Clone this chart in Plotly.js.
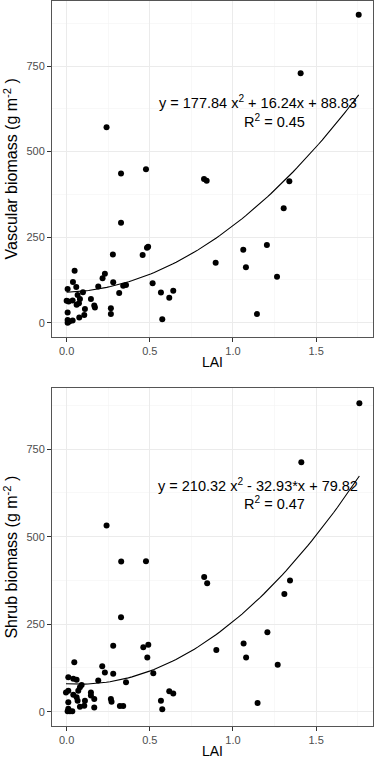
<!DOCTYPE html>
<html>
<head>
<meta charset="utf-8">
<script src="https://cdn.plot.ly/plotly-3.0.1.min.js"></script>
<style>
  html, body { margin: 0; padding: 0; background: #ffffff; }
  #graph { width: 375px; height: 759px; }
</style>
</head>
<body>
<div id="graph"></div>
<script>
// LAI vs vascular biomass (top panel)
const laiVasc = [
  0.000, 0.012, 0.036, 0.006, 0.038, 0.048, 0.058, 0.066, 0.080, 0.098,
  0.060, 0.074, 0.006, 0.006, 0.016, 0.006, 0.036, 0.076, 0.106, 0.110,
  0.146, 0.166, 0.170, 0.190, 0.216, 0.230, 0.266, 0.266, 0.280, 0.278,
  0.316, 0.340, 0.357, 0.327, 0.327, 0.240, 0.457, 0.483, 0.490, 0.477,
  0.517, 0.567, 0.575, 0.617, 0.641, 0.826, 0.842, 0.896, 1.062, 1.078,
  1.144, 1.204, 1.265, 1.305, 1.339, 1.407, 1.756
];
const vascBiomass = [
  64, 62, 65, 98, 119, 152, 104, 81, 69, 89,
  52, 57, 30, 8, 3, 0, 6, 15, 22, 40,
  69, 50, 44, 106, 130, 143, 42, 25, 118, 199,
  87, 108, 110, 292, 436, 571, 198, 219, 222, 448,
  115, 88, 10, 73, 93, 420, 415, 175, 213, 162,
  25, 227, 134, 334, 413, 729, 900
];

// LAI vs shrub biomass (bottom panel)
const laiShrub = [
  -0.004, 0.010, 0.010, 0.040, 0.060, 0.046, 0.090, 0.080, 0.070, 0.040,
  0.060, 0.066, 0.010, 0.010, 0.020, 0.006, 0.034, 0.080, 0.106, 0.110,
  0.146, 0.146, 0.166, 0.166, 0.190, 0.214, 0.230, 0.280, 0.266, 0.270,
  0.320, 0.340, 0.357, 0.280, 0.327, 0.328, 0.240, 0.461, 0.491, 0.485,
  0.477, 0.521, 0.567, 0.575, 0.617, 0.641, 0.827, 0.845, 0.900, 1.064,
  1.079, 1.148, 1.207, 1.269, 1.309, 1.343, 1.411, 1.760
];
const shrubBiomass = [
  55, 60, 98, 94, 91, 141, 76, 70, 60, 48,
  41, 31, 27, 8, 1, 1, 1, 14, 17, 31,
  55, 46, 36, 12, 89, 130, 112, 108, 36, 28,
  16, 16, 84, 188, 270, 429, 532, 184, 191, 155,
  430, 110, 31, 7, 58, 52, 385, 367, 176, 195,
  155, 25, 227, 134, 336, 375, 713, 881
];

// quadratic fits as printed on the chart: a*x^2 + b*x + c
const fitVasc = [177.84, 16.24, 88.83];
const fitShrub = [210.32, -32.93, 79.82];
const eqVasc = 'y = 177.84 x<sup>2</sup> + 16.24x + 88.83';
const eqShrub = 'y = 210.32 x<sup>2</sup> - 32.93*x + 79.82';
const r2Vasc = 'R<sup>2</sup> = 0.45';
const r2Shrub = 'R<sup>2</sup> = 0.47';

const xTicks = [0, 0.5, 1.0, 1.5];
const xTickText = ['0.0', '0.5', '1.0', '1.5'];
const yTicks = [0, 250, 500, 750];

const fontFam = '"Liberation Sans", Arial, sans-serif';

const fitCurve = (xs, coef) => {
  const lo = Math.min(...xs);
  const hi = Math.max(...xs);
  const cx = [];
  const cy = [];
  for (let i = 0; i <= 80; i++) {
    const x = lo + (hi - lo) * i / 80;
    cx.push(x);
    cy.push(coef[0] * x * x + coef[1] * x + coef[2]);
  }
  return { x: cx, y: cy };
};

const cV = fitCurve(laiVasc, fitVasc);
const cS = fitCurve(laiShrub, fitShrub);

const dots = { color: '#000000', size: 6 };

const data = [
  { x: laiVasc, y: vascBiomass, type: 'scatter', mode: 'markers', marker: dots, xaxis: 'x', yaxis: 'y' },
  { x: cV.x, y: cV.y, type: 'scatter', mode: 'lines', line: { color: '#000000', width: 1.1 }, xaxis: 'x', yaxis: 'y' },
  { x: laiShrub, y: shrubBiomass, type: 'scatter', mode: 'markers', marker: dots, xaxis: 'x2', yaxis: 'y2' },
  { x: cS.x, y: cS.y, type: 'scatter', mode: 'lines', line: { color: '#000000', width: 1.1 }, xaxis: 'x2', yaxis: 'y2' },
];

const xAxisBase = {
  range: [-0.088, 1.842],
  tickvals: xTicks,
  ticktext: xTickText,
  ticks: 'outside',
  ticklen: 4,
  tickcolor: '#333333',
  tickfont: { family: fontFam, size: 11, color: '#4d4d4d' },
  showgrid: true,
  gridcolor: '#ebebeb',
  gridwidth: 1,
  minor: { tickvals: [0.25, 0.75, 1.25, 1.75], showgrid: true, gridcolor: '#f3f3f3', gridwidth: 0.6, ticks: '' },
  zeroline: false,
  showline: true,
  mirror: true,
  linecolor: '#555555',
  linewidth: 1,
  title: { text: 'LAI', font: { family: fontFam, size: 14, color: '#000000' }, standoff: 1 },
};

const yAxisBase = {
  tickvals: yTicks,
  ticks: 'outside',
  ticklen: 4,
  tickcolor: '#333333',
  tickfont: { family: fontFam, size: 11, color: '#4d4d4d' },
  showgrid: true,
  gridcolor: '#ebebeb',
  gridwidth: 1,
  minor: { tickvals: [125, 375, 625, 875], showgrid: true, gridcolor: '#f3f3f3', gridwidth: 0.6, ticks: '' },
  zeroline: false,
  showline: true,
  mirror: true,
  linecolor: '#555555',
  linewidth: 1,
};

const yTitleFont = { family: fontFam, size: 16, color: '#000000' };
const annFont = { family: fontFam, size: 14.5, color: '#000000' };

const layout = {
  width: 375,
  height: 759,
  margin: { l: 52, r: 2, t: 1, b: 33 },
  paper_bgcolor: '#ffffff',
  plot_bgcolor: '#ffffff',
  showlegend: false,
  xaxis: Object.assign({}, xAxisBase, { anchor: 'y' }),
  yaxis: Object.assign({}, yAxisBase, {
    domain: [0.537, 1],
    range: [-41, 940],
    anchor: 'x',
    title: { text: 'Vascular biomass (g m<sup>-2</sup> )', font: yTitleFont, standoff: 4 },
  }),
  xaxis2: Object.assign({}, xAxisBase, { anchor: 'y2' }),
  yaxis2: Object.assign({}, yAxisBase, {
    domain: [0, 0.4658],
    range: [-41, 924],
    anchor: 'x2',
    title: { text: 'Shrub biomass (g m<sup>-2</sup> )', font: yTitleFont, standoff: 4 },
  }),
  annotations: [
    { xref: 'x', yref: 'y', x: 1.149, y: 644, text: eqVasc, showarrow: false, font: annFont, xanchor: 'center', yanchor: 'middle' },
    { xref: 'x', yref: 'y', x: 1.247, y: 588, text: r2Vasc, showarrow: false, font: annFont, xanchor: 'center', yanchor: 'middle' },
    { xref: 'x2', yref: 'y2', x: 1.150, y: 647, text: eqShrub, showarrow: false, font: annFont, xanchor: 'center', yanchor: 'middle' },
    { xref: 'x2', yref: 'y2', x: 1.247, y: 595, text: r2Shrub, showarrow: false, font: annFont, xanchor: 'center', yanchor: 'middle' },
  ],
};

Plotly.newPlot('graph', data, layout, { displayModeBar: false, staticPlot: true });
</script>
</body>
</html>
